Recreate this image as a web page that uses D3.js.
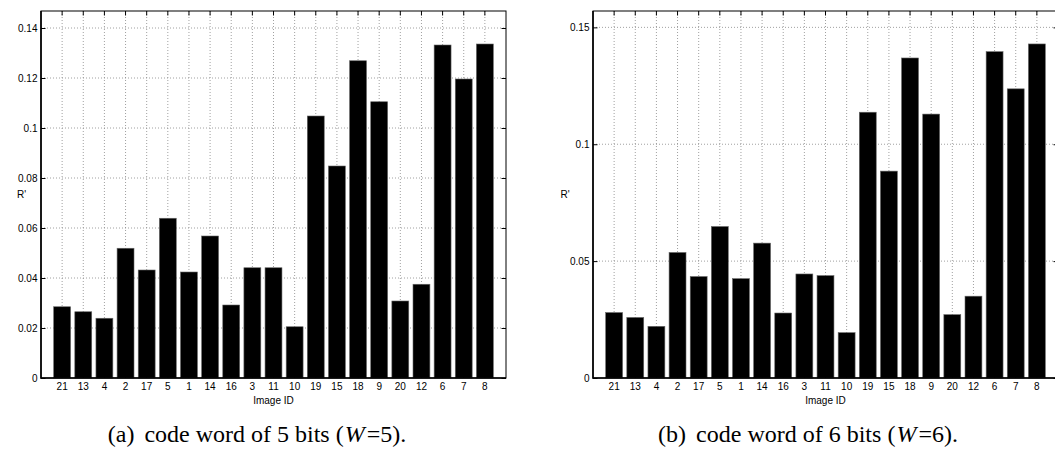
<!DOCTYPE html>
<html>
<head>
<meta charset="utf-8">
<script src="https://cdn.jsdelivr.net/npm/d3@7"></script>
<style>
  body { margin: 0; background: #fff; }
  svg { display: block; }
  .tick text { font-family: "Liberation Sans", Arial, sans-serif; font-size: 10px; fill: #000; }
</style>
</head>
<body>
<svg id="chart" width="1055" height="449"></svg>
<script>
// R' per image, bars ordered by image ID as on the x axis
const imageIds = ['21', '13', '4', '2', '17', '5', '1', '14', '16', '3', '11', '10', '19', '15', '18', '9', '20', '12', '6', '7', '8'];
const rW5 = [0.0285, 0.0265, 0.0239, 0.0519, 0.0432, 0.0639, 0.0424, 0.0568, 0.0292, 0.0441, 0.0441, 0.0205, 0.1048, 0.0848, 0.1269, 0.1105, 0.0308, 0.0375, 0.1332, 0.1196, 0.1336];
const rW6 = [0.0280, 0.0259, 0.0221, 0.0537, 0.0434, 0.0648, 0.0425, 0.0577, 0.0278, 0.0445, 0.0438, 0.0194, 0.1137, 0.0885, 0.1369, 0.1129, 0.0271, 0.0350, 0.1396, 0.1237, 0.1429];
const yTicksW5 = [0, 0.02, 0.04, 0.06, 0.08, 0.1, 0.12, 0.14];
const yTicksW6 = [0, 0.05, 0.1, 0.15];
const yMaxW5 = 0.1468;
const yMaxW6 = 0.157;

const svg = d3.select('#chart');
const plotW = 465, plotH = 367, plotTop = 11;

function drawPanel(left, values, yTicks, yMax, caption) {
  const g = svg.append('g').attr('transform', `translate(${left},${plotTop})`);

  // bar centres at 1..21 with xlim [0, 22], bar width 0.8
  const x = d3.scaleBand()
    .domain(imageIds)
    .range([0, plotW])
    .paddingInner(0.2)
    .paddingOuter(0.6);

  const y = d3.scaleLinear()
    .domain([0, yMax])
    .range([plotH, 0]);

  // dotted grid
  const grid = g.append('g')
    .style('stroke', '#888')
    .style('stroke-width', 0.8)
    .style('stroke-dasharray', '1,2');

  grid.selectAll('.gx')
    .data(imageIds)
    .enter()
    .append('line')
    .attr('x1', d => x(d) + x.bandwidth() / 2)
    .attr('x2', d => x(d) + x.bandwidth() / 2)
    .attr('y1', 0)
    .attr('y2', plotH);

  grid.selectAll('.gy')
    .data(yTicks.filter(d => d > 0))
    .enter()
    .append('line')
    .attr('x1', 0)
    .attr('x2', plotW)
    .attr('y1', d => y(d))
    .attr('y2', d => y(d));

  // bars
  g.selectAll('.bar')
    .data(values)
    .enter()
    .append('rect')
    .attr('class', 'bar')
    .attr('x', (d, i) => x(imageIds[i]))
    .attr('width', x.bandwidth())
    .attr('y', d => y(d))
    .attr('height', d => plotH - y(d))
    .style('fill', '#000')
    .style('stroke', '#666')
    .style('stroke-width', 0.6);

  // axes, ticks pointing inward
  g.append('g')
    .attr('transform', `translate(0,${plotH})`)
    .call(d3.axisBottom(x).tickSizeInner(-4.5).tickSizeOuter(0).tickPadding(5.3))
    .call(a => a.select('.domain').remove());

  g.append('g')
    .call(d3.axisTop(x).tickSizeInner(-4.5).tickSizeOuter(0).tickFormat(''))
    .call(a => a.select('.domain').remove());

  g.append('g')
    .call(d3.axisLeft(y).tickValues(yTicks).tickSizeInner(-4.5).tickSizeOuter(0).tickPadding(3.5)
      .tickFormat(d => d === 0 ? '0' : String(+d.toFixed(2))))
    .call(a => a.select('.domain').remove());

  g.append('g')
    .attr('transform', `translate(${plotW},0)`)
    .call(d3.axisRight(y).tickValues(yTicks).tickSizeInner(-4.5).tickSizeOuter(0).tickFormat(''))
    .call(a => a.select('.domain').remove());

  // box
  g.append('rect')
    .attr('width', plotW)
    .attr('height', plotH)
    .style('fill', 'none')
    .style('stroke', '#000')
    .style('stroke-width', 1);
  g.append('path')
    .attr('d', `M0,0V${plotH}H${plotW}`)
    .style('fill', 'none')
    .style('stroke', '#000')
    .style('stroke-width', 1.6);

  // labels
  g.append('text')
    .attr('x', plotW / 2)
    .attr('y', plotH + 25.5)
    .attr('text-anchor', 'middle')
    .style('font-family', '"Liberation Sans", Arial, sans-serif')
    .style('font-size', '10px')
    .text('Image ID');

  g.append('text')
    .attr('x', caption.labelX - left)
    .attr('y', plotH / 2 + 3)
    .style('font-family', '"Liberation Sans", Arial, sans-serif')
    .style('font-size', '10px')
    .text("R'");

  const cap = svg.append('text')
    .attr('x', caption.x)
    .attr('y', 442)
    .attr('text-anchor', 'middle')
    .style('font-family', '"Liberation Serif", "Times New Roman", serif')
    .style('font-size', '24px');
  cap.append('tspan').text(caption.tag);
  cap.append('tspan').attr('dx', 10).text(caption.text);
  cap.append('tspan').attr('dx', 1).style('font-style', 'italic').text('W');
  cap.append('tspan').attr('dx', 2).text(caption.tail);
}

drawPanel(41, rW5, yTicksW5, yMaxW5, { x: 257, labelX: 17, tag: '(a)', text: 'code word of 5 bits (', tail: '=5).' });
drawPanel(593, rW6, yTicksW6, yMaxW6, { x: 808, labelX: 560.5, tag: '(b)', text: 'code word of 6 bits (', tail: '=6).' });
</script>
</body>
</html>
